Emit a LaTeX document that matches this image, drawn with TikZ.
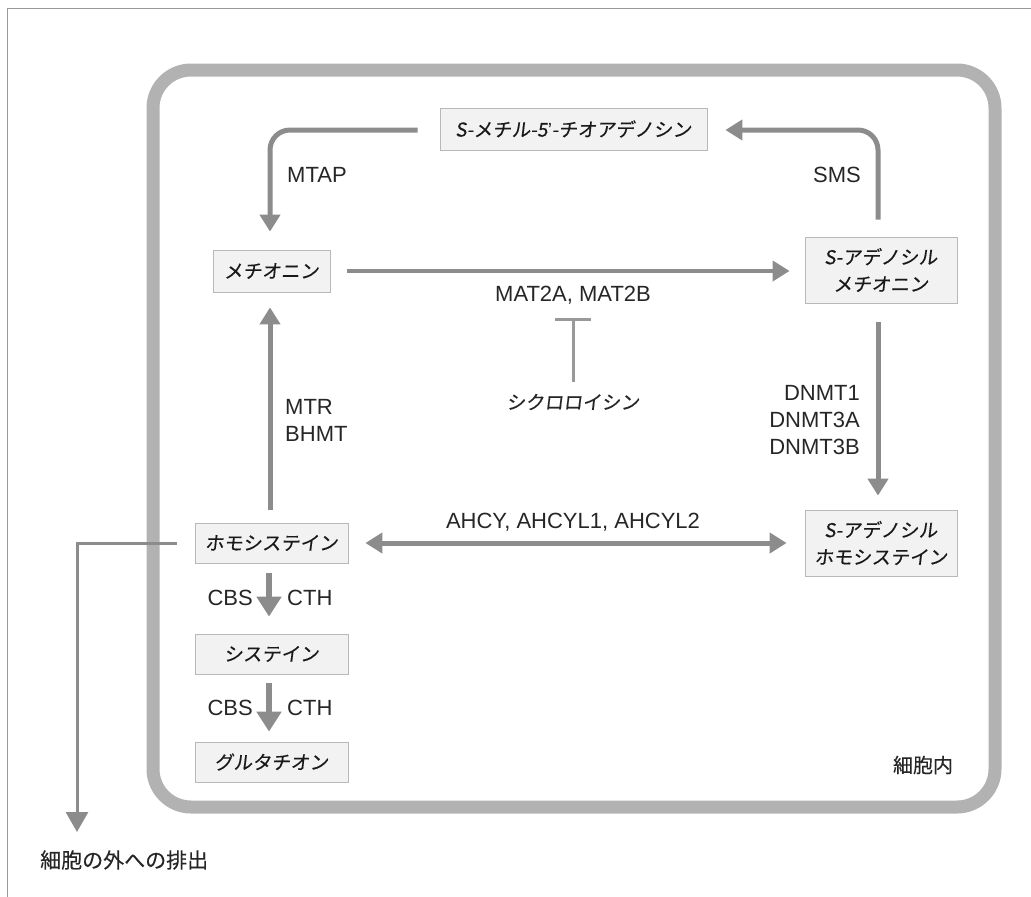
\documentclass[tikz,border=0pt]{standalone}
\usepackage{fontspec}
\setmainfont{Liberation Sans}
\newfontfamily\jp[FakeBold=0.3]{Noto Sans CJK JP}
\newfontfamily\jpk[FakeSlant=0.12,FakeBold=0.3]{Noto Sans CJK JP}
\newfontfamily\latin{Liberation Sans}
\usetikzlibrary{arrows.meta}
\tikzset{
  box/.style={draw=black!28, line width=0.8pt, fill=black!5, inner sep=0pt, align=center,
    font=\jpk\fontsize{19}{27}\selectfont, text=black!90},
  lab/.style={font=\fontsize{22}{27}\selectfont, text=black!85, inner sep=0pt},
  jplab/.style={font=\jp\fontsize{20}{27}\selectfont, text=black!85, inner sep=0pt},
  arr/.style={draw=black!45, line width=5pt, -{Triangle[width=20pt,length=17pt]}},
  darr/.style={draw=black!45, line width=5pt, {Triangle[width=20pt,length=17pt]}-{Triangle[width=20pt,length=17pt]}},
  fatarr/.style={draw=black!45, line width=6pt, -{Triangle[width=24pt,length=20pt]}},
  thinarr/.style={draw=black!45, line width=3pt, -{Triangle[width=22pt,length=20pt]}},
  inhib/.style={draw=black!40, line width=3pt, -{Bar[width=36pt,line width=3pt]}},
  band/.style={draw=black!30, line width=13pt, rounded corners=38pt},
}
\begin{document}
\begin{tikzpicture}[x=1pt,y=-1pt]
\useasboundingbox (0,0) rectangle (1031,897);
% outer frame
\draw[black!40, line width=1pt] (7,897) -- (7,8) -- (1031,8);
% cell
\draw[band] (153,70) rectangle (995,807);

% nodes
\node[box, minimum width=267pt, minimum height=42pt] (mta) at (573.5,129) {S-メチル-5{\latin’}-チオアデノシン};
\node[box, minimum width=117pt, minimum height=42pt] (met) at (271.5,271) {メチオニン};
\node[box, minimum width=152pt, minimum height=66pt] (sam) at (881,270) {S-アデノシル\\メチオニン};
\node[box, minimum width=152pt, minimum height=66pt] (sah) at (881,543) {S-アデノシル\\ホモシステイン};
\node[box, minimum width=153pt, minimum height=40pt] (hcy) at (271.5,543) {ホモシステイン};
\node[box, minimum width=153pt, minimum height=40pt] (cys) at (271.5,654) {システイン};
\node[box, minimum width=153pt, minimum height=40pt] (glu) at (271.5,762) {グルタチオン};

\node[lab, anchor=west] (mtap) at (287,175) {MTAP};
\node[lab] (sms) at (837,175) {SMS};
\node[lab] (mat) at (573,295) {MAT2A, MAT2B};
\node[font=\jpk\fontsize{19}{27}\selectfont, text=black!85, inner sep=0pt] (cyc) at (573,402) {シクロロイシン};
\node[lab, align=right, anchor=east] (dnmt) at (860,420) {DNMT1\\DNMT3A\\DNMT3B};
\node[lab, align=left, anchor=west] (mtr) at (285,420) {MTR\\BHMT};
\node[lab] (ahcy) at (573,522) {AHCY, AHCYL1, AHCYL2};
\node[lab, anchor=east] (cbs1) at (253,598) {CBS};
\node[lab, anchor=west] (cth1) at (287,598) {CTH};
\node[lab, anchor=east] (cbs2) at (253,708) {CBS};
\node[lab, anchor=west] (cth2) at (287,708) {CTH};
\node[jplab] (intra) at (923,765) {細胞内};
\node[font=\jp\fontsize{21}{27}\selectfont, text=black!85, inner sep=0pt, anchor=west] (out) at (40,860) {細胞の外への排出};

\coordinate (bar) at (573,318);
\coordinate (exitp) at (77,832);

% connectors
\draw[arr, rounded corners=20pt] ([xshift=-22pt,yshift=-1pt]mta.west) -| ([xshift=-1.5pt,yshift=18pt]met.north);
\draw[arr, rounded corners=20pt] ([xshift=-3pt,yshift=17pt]sam.north) |- ([xshift=18pt,yshift=-1pt]mta.east);
\draw[arr, line width=4pt] ([xshift=17pt]met.east) -- ([xshift=-15pt]met.east -| sam.west);
\draw[arr] ([xshift=-3pt,yshift=-19pt]sam.south) -- ([xshift=-3pt,yshift=14pt]sah.north);
\draw[darr] ([xshift=17pt]hcy.east) -- ([xshift=-18pt]hcy.east -| sah.west);
\draw[arr] ([xshift=-1.5pt,yshift=13pt]hcy.north) -- ([xshift=-1.5pt,yshift=-15pt]met.south);
\draw[inhib] ([yshift=12pt]cyc.north) -- (bar);
\draw[fatarr] ([xshift=-2.5pt,yshift=-10pt]hcy.south) -- ([xshift=-2.5pt,yshift=17pt]cys.north);
\draw[fatarr] ([xshift=-2.5pt,yshift=-9pt]cys.south) -- ([xshift=-2.5pt,yshift=10pt]glu.north);
\draw[thinarr] ([xshift=-18pt]hcy.west) -| (exitp);
\end{tikzpicture}
\end{document}
